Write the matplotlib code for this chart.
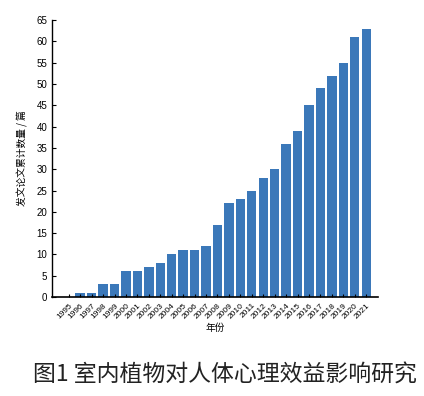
import matplotlib
matplotlib.use("Agg")
import matplotlib.pyplot as plt

plt.rcParams['font.family'] = ['Noto Sans CJK SC', 'DejaVu Sans']

years = [str(y) for y in range(1995, 2022)]
counts = [0, 1, 1, 3, 3, 6, 6, 7, 8, 10, 11, 11, 12, 17, 22, 23, 25, 28, 30,
          36, 39, 45, 49, 52, 55, 61, 63]
y_ticks = list(range(0, 66, 5))

fig = plt.figure(figsize=(4.24, 3.96), dpi=100)
ax = fig.add_axes([0.123, 0.25, 0.769, 0.699])
x = list(range(len(years)))
ax.bar(x, counts, width=0.82, color='#3b78b9')
ax.set_xlim(-1.45, len(years) - 1 + 1.05)
ax.set_ylim(0, 65)
ax.set_yticks(y_ticks)
ax.set_xticks(x)
ax.set_xticklabels(years, rotation=45, fontsize=6, ha='right', rotation_mode='anchor',
                   family='Liberation Sans')
ax.tick_params(axis='y', direction='in', length=3, labelsize=7, width=0.8)
ax.tick_params(axis='x', direction='in', length=2, width=0.8)
for lbl in ax.get_yticklabels():
    lbl.set_family('Liberation Sans')
for s in ['top', 'right']:
    ax.spines[s].set_visible(False)
ax.spines['left'].set_linewidth(1.0)
ax.spines['bottom'].set_linewidth(1.2)
ax.set_ylabel('发文论文累计数量 / 篇', fontsize=7, labelpad=6)
ax.set_xlabel('年份', fontsize=7, labelpad=2)
fig.text(0.53, 0.053, '图1 室内植物对人体心理效益影响研究', ha='center', va='center',
         fontsize=16.5, color='#222222')
fig.savefig('out.png', dpi=100)
